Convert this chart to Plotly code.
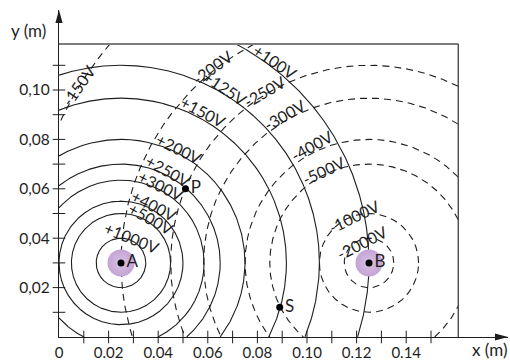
import numpy as np
import plotly.graph_objects as go

# ---------------- data ----------------
charge_names = ["A", "B"]
charge_x = [0.025, 0.125]
charge_y = [0.030, 0.030]

# equipotentials of charge A (solid) : potential (V) and radius (m)
pot_A = [1000, 500, 400, 300, 250, 200, 150, 125, 100]
rad_A = [0.010, 0.020, 0.025, 0.0335, 0.040, 0.050, 0.0667, 0.080, 0.100]

# equipotentials of charge B (dashed)
pot_B = [-2000, -1000, -500, -400, -300, -250, -200, -150]
rad_B = [0.010, 0.020, 0.040, 0.050, 0.0667, 0.080, 0.100, 0.137]

point_names = ["P", "S"]
point_x = [0.051, 0.089]
point_y = [0.060, 0.012]

x_tick_vals = [0, 0.02, 0.04, 0.06, 0.08, 0.10, 0.12, 0.14]
x_tick_text = ["0", "0.02", "0.04", "0.06", "0.08", "0.10", "0.12", "0.14"]
y_tick_vals = [0.02, 0.04, 0.06, 0.08, 0.10]
y_tick_text = ["0,02", "0,04", "0,06", "0,08", "0,10"]
x_minor = [0.01, 0.02, 0.03, 0.04, 0.05, 0.06, 0.07, 0.08, 0.09, 0.10, 0.11, 0.12, 0.13, 0.14, 0.15]
y_minor = [0.01, 0.02, 0.03, 0.04, 0.05, 0.06, 0.07, 0.08, 0.09, 0.10, 0.11]

box_xmax = 0.161
box_ymax = 0.1186

# potential labels: text, x, y, angle
label_text = ["-150V", "-200V", "+100V", "+125V", "-250V", "+150V", "-300V", "-400V",
              "-500V", "-1000V", "-2000V", "+200V", "+250V", "+300V", "+400V", "+500V", "+1000V"]
label_x = [0.0078, 0.0617, 0.0871, 0.0668, 0.0827, 0.0581, 0.0911, 0.1019,
           0.1066, 0.1188, 0.1222, 0.0484, 0.0438, 0.0411, 0.0384, 0.0371, 0.0293]
label_y = [0.1018, 0.1091, 0.1115, 0.1009, 0.0995, 0.0913, 0.0901, 0.0777,
           0.0675, 0.0487, 0.0381, 0.0764, 0.0673, 0.0615, 0.0532, 0.0480, 0.0403]
label_angle = [-55, -36, 34, 34, -30, 28, -30, -29, -25, -26, -27, 26, 29, 26, 27, 29, 22]

# ---------------- figure ----------------
W, H = 510, 361
ML, MR, MT, MB = 59, 2, 10, 24
PX_X, PX_Y = 2480.0, 2470.0   # pixels per metre
PW, PH = W - ML - MR, H - MT - MB
x_range = [0, PW / PX_X]
y_range = [0, PH / PX_Y]

FONT = "Lato, 'Open Sans', sans-serif"
INK = "#1e1e1e"

fig = go.Figure()


def circle(cx, cy, r):
    t = np.linspace(0, 2 * np.pi, 5000)
    x = cx + r * np.cos(t)
    y = cy + r * np.sin(t)
    out = (x < 0) | (x > box_xmax) | (y < 0) | (y > box_ymax)
    x[out] = np.nan
    y[out] = np.nan
    return x, y


for v, r in zip(pot_A, rad_A):
    x, y = circle(charge_x[0], charge_y[0], r)
    fig.add_trace(go.Scatter(x=x, y=y, mode="lines", name=f"{v} V",
                             line=dict(color=INK, width=1.1),
                             hoverinfo="skip", showlegend=False))
for v, r in zip(pot_B, rad_B):
    x, y = circle(charge_x[1], charge_y[1], r)
    fig.add_trace(go.Scatter(x=x, y=y, mode="lines", name=f"{v} V",
                             line=dict(color=INK, width=1.1, dash="7px,5px"),
                             hoverinfo="skip", showlegend=False))

# tick marks crossing the axes
fig.add_trace(go.Scatter(x=x_minor, y=[0] * len(x_minor), mode="markers",
                         marker=dict(symbol="line-ns", size=9, line=dict(width=1, color=INK)),
                         cliponaxis=False, hoverinfo="skip", showlegend=False))
fig.add_trace(go.Scatter(x=[0] * len(y_minor), y=y_minor, mode="markers",
                         marker=dict(symbol="line-ew", size=9, line=dict(width=1, color=INK)),
                         cliponaxis=False, hoverinfo="skip", showlegend=False))

# charges: halo + dot
fig.add_trace(go.Scatter(x=charge_x, y=charge_y, mode="markers",
                         marker=dict(size=27, color="#c4a3d4",
                                     gradient=dict(type="radial", color="#d8c3e3"),
                                     line=dict(width=0)),
                         hoverinfo="skip", showlegend=False))
fig.add_trace(go.Scatter(x=charge_x, y=charge_y, mode="markers+text",
                         text=charge_names, textposition="middle right",
                         textfont=dict(family=FONT, size=17, color=INK),
                         marker=dict(size=7, color="black"),
                         hoverinfo="skip", showlegend=False))
fig.add_trace(go.Scatter(x=point_x, y=point_y, mode="markers+text",
                         text=point_names, textposition="middle right",
                         textfont=dict(family=FONT, size=17, color=INK),
                         marker=dict(size=7, color="black"),
                         hoverinfo="skip", showlegend=False))

shapes = [
    dict(type="line", xref="x", yref="y", x0=0, x1=box_xmax, y0=box_ymax, y1=box_ymax,
         line=dict(color="#7d7d7d", width=2)),
    dict(type="line", xref="x", yref="y", x0=box_xmax, x1=box_xmax, y0=0, y1=box_ymax,
         line=dict(color="#4a4a4a", width=1.4)),
    # arrow heads
    dict(type="path", xref="paper", yref="paper", xsizemode="pixel", ysizemode="pixel",
         xanchor=1, yanchor=0, path="M0,0 L-13,3.6 L-13,-3.6 Z",
         fillcolor=INK, line=dict(width=0)),
    dict(type="path", xref="paper", yref="paper", xsizemode="pixel", ysizemode="pixel",
         xanchor=0, yanchor=1, path="M0,0 L-3.6,-13 L3.6,-13 Z",
         fillcolor=INK, line=dict(width=0)),
]

annotations = []
for t, x, y, a in zip(label_text, label_x, label_y, label_angle):
    annotations.append(dict(x=x, y=y, xref="x", yref="y", text=t, textangle=a,
                            showarrow=False, xanchor="center", yanchor="middle",
                            font=dict(family=FONT, size=16, color=INK)))
# axis titles (paper coordinates, placed by pixel position)
annotations.append(dict(x=(28 - ML) / PW, y=(H - MB - 31) / PH, xref="paper", yref="paper",
                        text="y (m)", showarrow=False, xanchor="center", yanchor="middle",
                        font=dict(family=FONT, size=17, color=INK)))
annotations.append(dict(x=(489 - ML) / PW, y=(H - MB - 350) / PH, xref="paper", yref="paper",
                        text="x (m)", showarrow=False, xanchor="center", yanchor="middle",
                        font=dict(family=FONT, size=17, color=INK)))

fig.update_layout(
    width=W, height=H,
    margin=dict(l=ML, r=MR, t=MT, b=MB, pad=0),
    paper_bgcolor="white", plot_bgcolor="white",
    template="none",
    shapes=shapes, annotations=annotations,
    xaxis=dict(range=x_range, showgrid=False, zeroline=False, showline=True,
               linecolor=INK, linewidth=1.2, tickvals=x_tick_vals, ticktext=x_tick_text,
               ticks="outside", ticklen=2, tickcolor="rgba(0,0,0,0)",
               tickfont=dict(family=FONT, size=15, color=INK), automargin=False,
               fixedrange=True),
    yaxis=dict(range=y_range, showgrid=False, zeroline=False, showline=True,
               linecolor=INK, linewidth=1.2, tickvals=y_tick_vals, ticktext=y_tick_text,
               ticks="outside", ticklen=5, tickcolor="rgba(0,0,0,0)",
               tickfont=dict(family=FONT, size=15.5, color=INK), automargin=False,
               fixedrange=True),
    showlegend=False,
)

fig.write_html("out.html", config={"displayModeBar": False, "staticPlot": True},
               post_script="document.body.style.margin='0';document.body.style.overflow='hidden';")
